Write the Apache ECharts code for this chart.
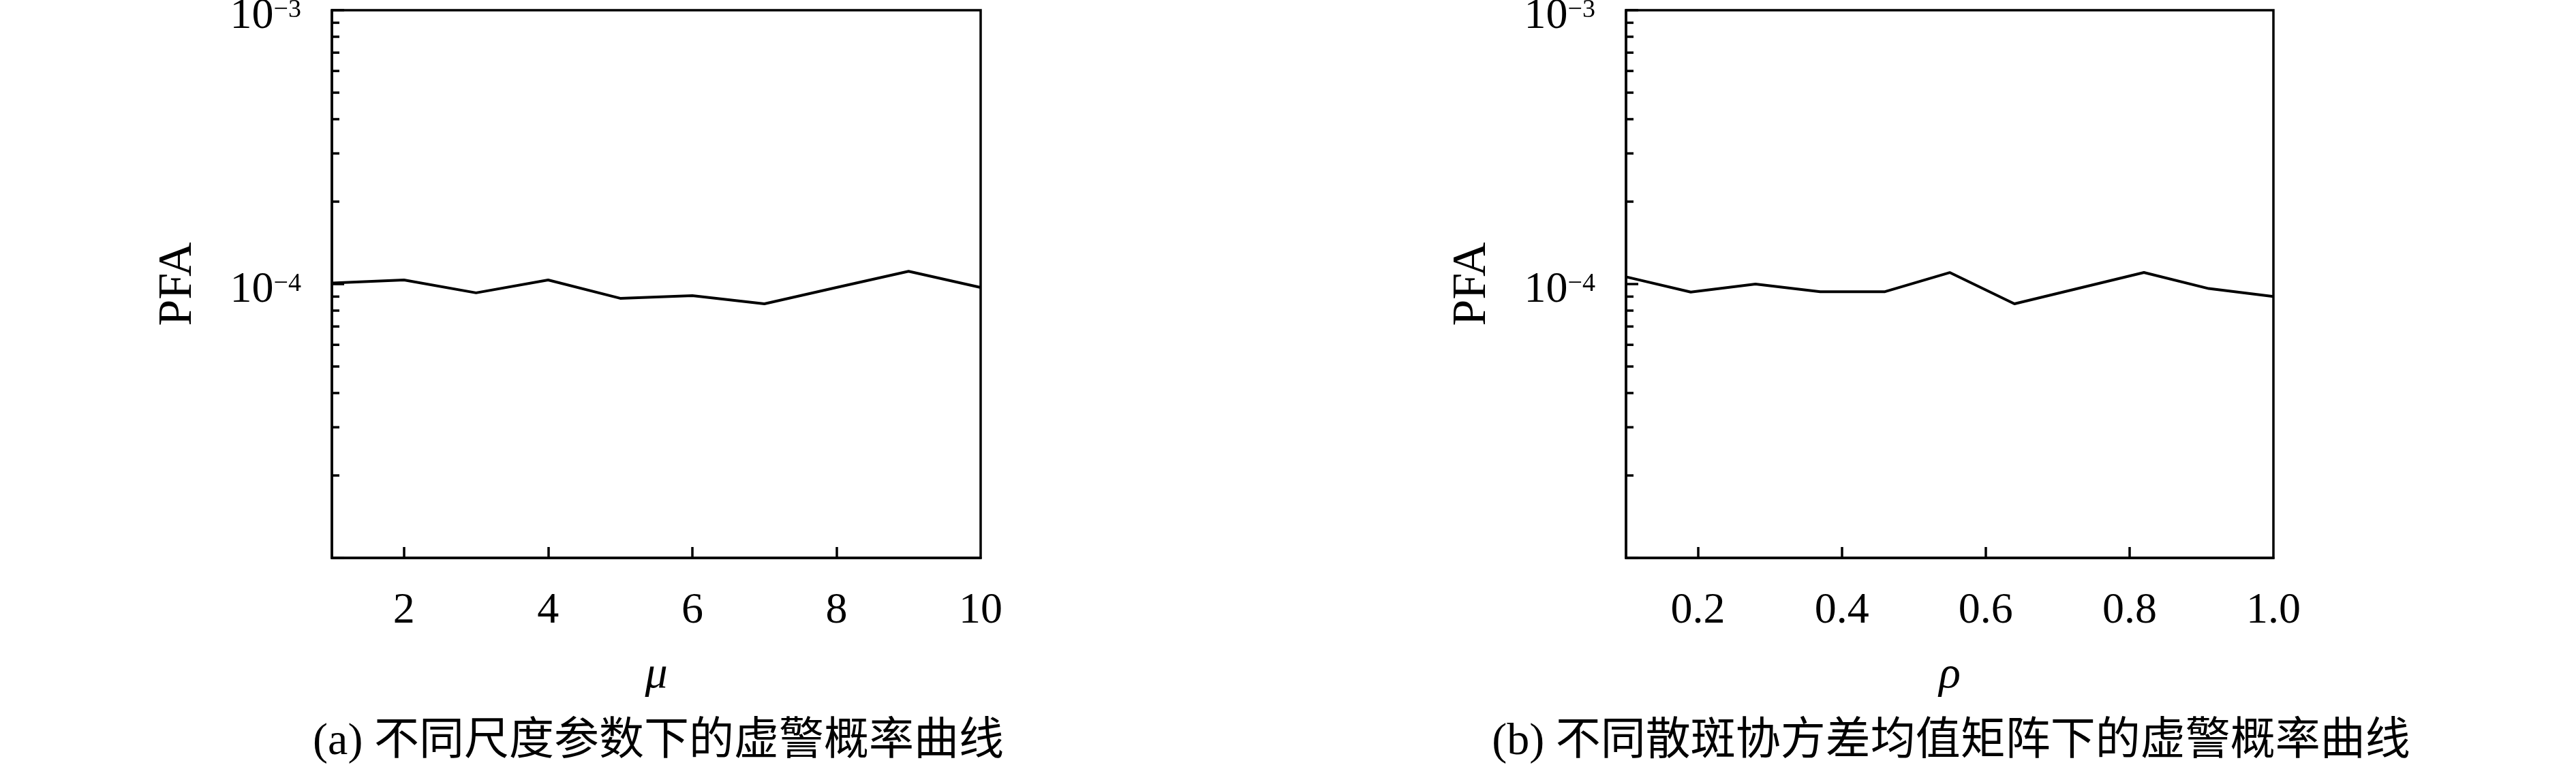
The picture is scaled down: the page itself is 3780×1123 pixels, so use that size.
<!DOCTYPE html>
<html>
<head>
<meta charset="utf-8">
<script src="https://cdn.jsdelivr.net/npm/echarts@6/dist/echarts.min.js"></script>
<style>
html,body{margin:0;padding:0;background:#fff;}
#c{width:3780px;height:1123px;}
</style>
</head>
<body>
<div id="c"></div>
<script>
// ---- data ----
const muValues = [1, 2, 3, 4, 5, 6, 7, 8, 9, 10];
const pfaMu = [1.008e-4, 1.035e-4, 0.929e-4, 1.035e-4, 0.887e-4, 0.907e-4, 0.847e-4, 0.972e-4, 1.113e-4, 0.972e-4];
const rhoValues = [0.1, 0.19, 0.28, 0.37, 0.46, 0.55, 0.64, 0.73, 0.82, 0.91, 1.0];
const pfaRho = [1.063e-4, 0.935e-4, 1.0e-4, 0.938e-4, 0.938e-4, 1.102e-4, 0.847e-4, 0.966e-4, 1.102e-4, 0.963e-4, 0.901e-4];
const muTicks = [2, 4, 6, 8, 10];
const rhoTicks = [0.2, 0.4, 0.6, 0.8, 1.0];
const yMajorLabels = [1e-4, 1e-3];
const yMinorTicks = [2e-5, 3e-5, 4e-5, 5e-5, 6e-5, 7e-5, 8e-5, 9e-5, 2e-4, 3e-4, 4e-4, 5e-4, 6e-4, 7e-4, 8e-4, 9e-4];
const captionA = '(a) 不同尺度参数下的虚警概率曲线';
const captionB = '(b) 不同散斑协方差均值矩阵下的虚警概率曲线';

const serif = '"Liberation Serif", "DejaVu Serif", serif';
const mixed = '"Liberation Serif", "Noto Sans CJK SC", serif';
const LW = 3.5;

function yLabel(v) {
  const e = Math.round(Math.log10(v));
  if (e === -5) return '';
  return '{b|10}{s|\u2212' + Math.abs(e) + '}';
}

function makeX(idx, min, max, ticks, name, fmt) {
  return {
    type: 'value', gridIndex: idx, min: min, max: max,
    name: name, nameLocation: 'middle', nameGap: 140, nameMoveOverlap: false,
    nameTextStyle: { fontFamily: serif, fontStyle: 'italic', fontSize: 66, color: '#000' },
    axisLine: { show: true, lineStyle: { color: '#000', width: LW } },
    axisTick: { show: true, inside: true, length: 16, customValues: ticks.slice(0, ticks.length - 1), lineStyle: { color: '#000', width: LW } },
    axisLabel: { show: true, customValues: ticks, margin: 46, fontFamily: serif, fontSize: 64, color: '#000', formatter: fmt },
    splitLine: { show: false }
  };
}

function makeY(idx) {
  return {
    type: 'log', logBase: 10, gridIndex: idx, min: 1e-5, max: 1e-3,
    name: 'PFA', nameLocation: 'middle', nameGap: 190, nameRotate: 90, nameMoveOverlap: false,
    nameTextStyle: { fontFamily: serif, fontSize: 70, color: '#000' },
    axisLine: { show: true, lineStyle: { color: '#000', width: LW } },
    axisTick: { show: true, inside: true, length: 18, lineStyle: { color: '#000', width: LW } },
    axisLabel: {
      show: true, margin: 45, formatter: yLabel, verticalAlign: 'middle', padding: [22, 0, 0, 0],
      rich: {
        b: { fontFamily: serif, fontSize: 64, color: '#000', lineHeight: 60, verticalAlign: 'bottom' },
        s: { fontFamily: serif, fontSize: 38, color: '#000', verticalAlign: 'top' }
      }
    },
    splitLine: { show: false }
  };
}

function minorSeries(idx, xmin) {
  return {
    type: 'custom', xAxisIndex: idx, yAxisIndex: idx, silent: true,
    data: yMinorTicks.map(v => [xmin, v]),
    renderItem: function (params, api) {
      const p = api.coord([api.value(0), api.value(1)]);
      return { type: 'line', shape: { x1: p[0], y1: p[1], x2: p[0] + 11, y2: p[1] }, style: { stroke: '#000', lineWidth: LW } };
    }
  };
}

const chart = echarts.init(document.getElementById('c'), null, { renderer: 'canvas' });
chart.setOption({
  backgroundColor: '#fff',
  animation: false,
  grid: [
    { left: 487, top: 15, width: 952, height: 804, show: true, borderColor: '#000', borderWidth: LW, containLabel: false, outerBoundsMode: 'none' },
    { left: 2386, top: 15, width: 950, height: 804, show: true, borderColor: '#000', borderWidth: LW, containLabel: false, outerBoundsMode: 'none' }
  ],
  title: [
    { text: captionA, left: 961, top: 1052, textAlign: 'center', textStyle: { fontFamily: mixed, fontSize: 66, fontWeight: 'normal', color: '#000' } },
    { text: captionB, left: 2858, top: 1052, textAlign: 'center', textStyle: { fontFamily: mixed, fontSize: 66, fontWeight: 'normal', color: '#000' } }
  ],
  xAxis: [
    makeX(0, 1, 10, muTicks, 'μ', v => String(v)),
    makeX(1, 0.1, 1.0, rhoTicks, 'ρ', v => Number(v).toFixed(1))
  ],
  yAxis: [makeY(0), makeY(1)],
  series: [
    { type: 'line', xAxisIndex: 0, yAxisIndex: 0, data: muValues.map((x, i) => [x, pfaMu[i]]), showSymbol: false, lineStyle: { color: '#000', width: 4 } },
    { type: 'line', xAxisIndex: 1, yAxisIndex: 1, data: rhoValues.map((x, i) => [x, pfaRho[i]]), showSymbol: false, lineStyle: { color: '#000', width: 4 } },
    minorSeries(0, 1),
    minorSeries(1, 0.1)
  ]
});
</script>
</body>
</html>
